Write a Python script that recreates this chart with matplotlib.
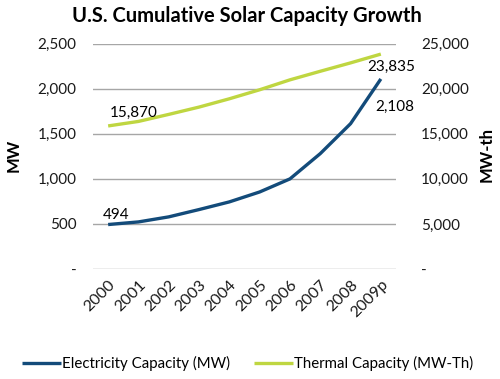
import matplotlib

matplotlib.use("Agg")
import matplotlib.pyplot as plt
from matplotlib.ticker import FuncFormatter

years = ["2000", "2001", "2002", "2003", "2004", "2005", "2006", "2007", "2008", "2009p"]
electricity_mw = [494, 523, 579, 660, 745, 855, 1000, 1280, 1612, 2108]
thermal_mwth = [15870, 16370, 17150, 17960, 18880, 19880, 20980, 21930, 22860, 23835]

BLUE = "#134b7a"
GREEN = "#bfd641"
GRID = "#a6a6a6"

plt.rcParams["font.family"] = ["Lato", "DejaVu Sans"]


def fmt(v, _):
    return "-" if v == 0 else f"{v:,.0f}"


fig = plt.figure(figsize=(5.0, 3.79), dpi=100)
ax = fig.add_axes([0.186, 0.290, 0.606, 0.595])
ax2 = ax.twinx()

x = list(range(len(years)))
ax.plot(x, electricity_mw, color=BLUE, lw=2.4, solid_capstyle="butt",
        label="Electricity Capacity (MW)", zorder=3)
ax2.plot(x, thermal_mwth, color=GREEN, lw=2.4, solid_capstyle="butt",
         label="Thermal Capacity (MW-Th)", zorder=3)

ax.set_ylim(0, 2500)
ax2.set_ylim(0, 25000)
ax.set_yticks(range(0, 2501, 500))
ax2.set_yticks(range(0, 25001, 5000))
ax.set_xlim(-0.5, len(years) - 0.5)
ax.set_xticks(x)
ax.set_xticklabels(years, rotation=45, ha="right", rotation_mode="anchor")
ax.yaxis.set_major_formatter(FuncFormatter(fmt))
ax2.yaxis.set_major_formatter(FuncFormatter(fmt))
ax.grid(axis="y", color=GRID, lw=1.0)
ax.set_axisbelow(True)

for a in (ax, ax2):
    for s in a.spines.values():
        s.set_visible(False)
    a.tick_params(length=0, labelsize=11, colors="#1a1a1a")
ax.tick_params(axis="y", pad=12)
ax2.tick_params(axis="y", pad=18)
ax.tick_params(axis="x", pad=6, labelsize=11.5)

# axis titles placed in figure coordinates so they stay inside the canvas
fig.text(14 / 500, 1 - 155 / 379, "MW", fontsize=12, fontweight="bold",
         rotation=90, ha="center", va="center")
fig.text(487 / 500, 1 - 155 / 379, "MW-th", fontsize=12, fontweight="bold",
         rotation=90, ha="center", va="center")

# data labels at the ends of each series
ax.annotate(f"{electricity_mw[0]:,}", (x[0], electricity_mw[0]), xytext=(-4, 2),
            textcoords="offset points", fontsize=11, ha="left", va="bottom")
ax.annotate(f"{electricity_mw[-1]:,}", (x[-1], electricity_mw[-1]), xytext=(-4, -15),
            textcoords="offset points", fontsize=11, ha="left", va="top")
ax2.annotate(f"{thermal_mwth[0]:,}", (x[0], thermal_mwth[0]), xytext=(1, 4),
             textcoords="offset points", fontsize=11, ha="left", va="bottom")
ax2.annotate(f"{thermal_mwth[-1]:,}", (x[-1], thermal_mwth[-1]), xytext=(-10, -4),
             textcoords="offset points", fontsize=11, ha="left", va="top")

fig.suptitle("U.S. Cumulative Solar Capacity Growth", x=0.494, y=0.985,
             fontsize=14.5, fontweight="bold")

h1, l1 = ax.get_legend_handles_labels()
h2, l2 = ax2.get_legend_handles_labels()
fig.legend(h1 + h2, l1 + l2, loc="center", bbox_to_anchor=(0.495, 0.04), ncol=2,
           frameon=False, fontsize=10.8, handlelength=2.6, handletextpad=0.05,
           columnspacing=1.6)

fig.savefig("out.png", dpi=100)
